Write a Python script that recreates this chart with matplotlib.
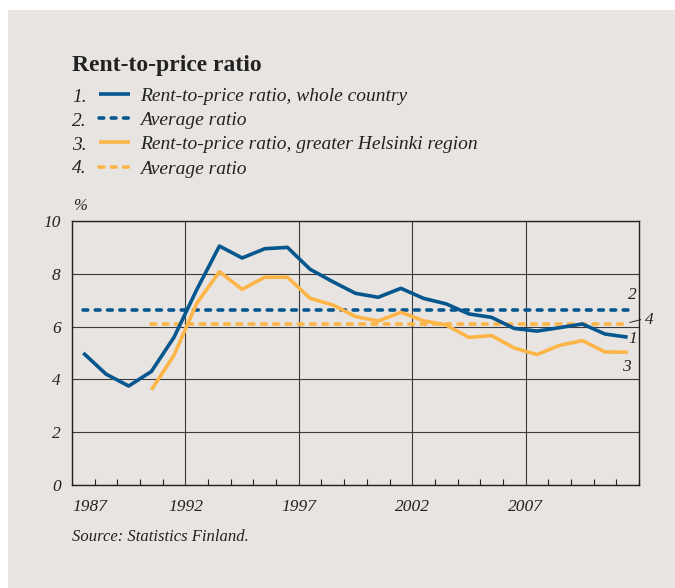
import matplotlib.pyplot as plt
import numpy as np
from matplotlib.patches import Rectangle
from matplotlib.ticker import MultipleLocator

# data: annual values, plotted at mid-year
years_fin = np.arange(1987, 2012)
ratio_fin = [5.0, 4.2, 3.75, 4.3, 5.6, 7.4, 9.05, 8.6, 8.95, 9.0,
             8.17, 7.7, 7.26, 7.11, 7.45, 7.07, 6.86, 6.48, 6.35, 5.93,
             5.83, 5.96, 6.1, 5.72, 5.6]
years_hki = np.arange(1990, 2012)
ratio_hki = [3.6, 4.92, 6.88, 8.08, 7.41, 7.87, 7.87, 7.07, 6.82, 6.38,
             6.21, 6.54, 6.22, 6.06, 5.59, 5.66, 5.19, 4.94, 5.29, 5.47,
             5.04, 5.03]
avg_fin = 6.63
avg_hki = 6.08

labels = ["Rent-to-price ratio, whole country",
          "Average ratio",
          "Rent-to-price ratio, greater Helsinki region",
          "Average ratio"]

blue = "#07578f"
yellow = "#fdb548"
bg = "#e8e4e1"
ink = "#222222"
serif = "Liberation Serif"

fig = plt.figure(figsize=(6.75, 5.88), dpi=100)
fig.patch.set_facecolor("white")
fig.patches.append(Rectangle((8 / 675, 0), 1, 1 - 10 / 588, transform=fig.transFigure,
                             facecolor=bg, edgecolor="none", zorder=-10))

ax = fig.add_axes([72 / 675, 103 / 588, 567 / 675, 264 / 588])
ax.set_facecolor(bg)

xf = years_fin + 0.5
xh = years_hki + 0.5
dash = (0, (1.3, 2.1))

l1, = ax.plot(xf, ratio_fin, color=blue, lw=2.6, solid_capstyle="butt", zorder=4)
l2, = ax.plot([xf[0], xf[-1]], [avg_fin, avg_fin], color=blue, lw=2.6,
              linestyle=dash, dash_capstyle="round", zorder=3)
l3, = ax.plot(xh, ratio_hki, color=yellow, lw=2.6, solid_capstyle="butt", zorder=4)
l4, = ax.plot([xh[0], xh[-1]], [avg_hki, avg_hki], color=yellow, lw=2.6,
              linestyle=dash, dash_capstyle="round", zorder=3)

ax.set_xlim(1987, 2012)
ax.set_ylim(0, 10)
ax.set_xticks([1987, 1992, 1997, 2002, 2007])
ax.xaxis.set_minor_locator(MultipleLocator(1))
ax.set_yticks([0, 2, 4, 6, 8, 10])
ax.grid(True, which="major", color="#3a3a3a", lw=0.8)
ax.set_axisbelow(True)
ax.tick_params(axis="x", which="major", length=0, pad=10)
ax.tick_params(axis="x", which="minor", direction="in", length=4, width=0.8, color=ink)
ax.tick_params(axis="y", length=0, pad=8)
for s in ax.spines.values():
    s.set_color(ink)
    s.set_linewidth(1.0)
for t in ax.get_xticklabels() + ax.get_yticklabels():
    t.set_fontfamily(serif)
    t.set_fontstyle("italic")
    t.set_fontsize(12.5)
    t.set_color(ink)
ax.get_xticklabels()[0].set_ha("left")

# series labels at right end
lab = dict(fontfamily=serif, fontstyle="italic", fontsize=12.5, color=ink,
           ha="center", va="center", clip_on=False)
ax.text(2011.69, 7.2, "2", **lab)
ax.text(2012.44, 6.25, "4", **lab)
ax.text(2011.74, 5.53, "1", **lab)
ax.text(2011.43, 4.47, "3", **lab)
ax.annotate("", xy=(2011.47, 6.13), xytext=(2012.2, 6.29),
            arrowprops=dict(arrowstyle="-", color=ink, lw=0.7), annotation_clip=False)

# title, legend, unit, source
fig.text(72 / 675, 1 - 65 / 588, "Rent-to-price ratio", fontfamily=serif,
         fontweight="bold", fontsize=17, color=ink, va="center")
leg = fig.legend([l1, l2, l3, l4], labels, loc="upper left",
                 bbox_to_anchor=(99 / 675, 1 - 87 / 588), frameon=False,
                 prop=dict(family=serif, style="italic", size=14),
                 handlelength=1.6, handletextpad=0.5, labelspacing=0.345,
                 borderpad=0, borderaxespad=0)
for t in leg.get_texts():
    t.set_color(ink)
for i, y in enumerate([97, 121, 145, 169]):
    fig.text(72 / 675, 1 - y / 588, f"{i + 1}.", fontfamily=serif, fontstyle="italic",
             fontsize=14, color=ink, va="center")
fig.text(73 / 675, 1 - 206 / 588, "%", fontfamily=serif, fontstyle="italic",
         fontsize=12, color=ink, va="center")
fig.text(72 / 675, 1 - 537 / 588, "Source: Statistics Finland.", fontfamily=serif,
         fontstyle="italic", fontsize=12, color=ink, va="center")

fig.savefig("out.png", dpi=100)
